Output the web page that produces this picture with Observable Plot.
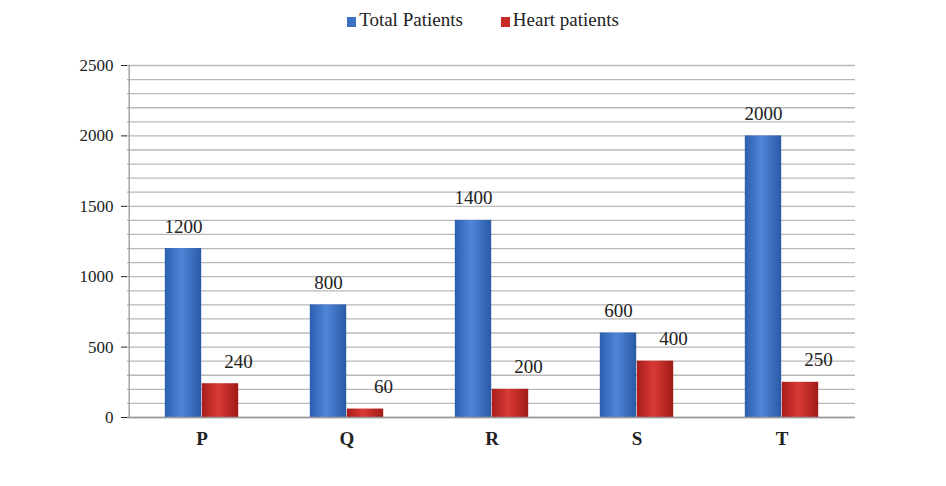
<!DOCTYPE html>
<html><head><meta charset="utf-8">
<script src="https://cdn.jsdelivr.net/npm/d3@7"></script>
<script src="https://cdn.jsdelivr.net/npm/@observablehq/plot@0.6"></script>
<style>
body{margin:0;background:#fff;font-family:"Liberation Serif",serif;}
#legend{height:40px;display:flex;justify-content:center;align-items:center;gap:38px;font-size:19px;color:#222;padding-left:20px;box-sizing:border-box}
#legend span.sw{display:inline-block;width:9px;height:10px;margin-right:3px;vertical-align:-1px}
</style></head><body>
<div id="legend"><div><span class="sw" style="background:#3b70c4"></span>Total Patients</div><div><span class="sw" style="background:#c62a26"></span>Heart patients</div></div>
<div id="chart"></div>
<script>
const categories = ["P","Q","R","S","T"];
const totalPatients = [1200,800,1400,600,2000];
const heartPatients = [240,60,200,400,250];
const yTicks = [0,500,1000,1500,2000,2500];
const gridTicks = d3.range(0,2501,100);

const total = categories.map((c,i)=>({c,v:totalPatients[i]}));
const heart = categories.map((c,i)=>({c,v:heartPatients[i]}));
const bw = (946-127-91)/5, barW = 37, side = bw/2 - barW;
const FF = "Liberation Serif, serif";

const plot = Plot.plot({
  width:946, height:446, marginLeft:127, marginRight:91, marginTop:25, marginBottom:69,
  style:{fontFamily:FF, fontSize:"17px", color:"#222"},
  x:{domain:categories, padding:0, label:null, tickSize:0, tickPadding:14},
  y:{domain:[0,2500], ticks:yTicks, tickFormat:"d", label:null, tickSize:6, tickPadding:8},
  marks:[
    Plot.ruleY(gridTicks,{stroke:"#b8b8b8",strokeWidth:1.3}),
    Plot.barY(total,{x:"c",y:"v",fill:"url(#gBlue)",insetLeft:side,insetRight:bw/2}),
    Plot.barY(heart,{x:"c",y:"v",fill:"url(#gRed)",insetLeft:bw/2,insetRight:side}),
    Plot.text(total,{x:"c",y:"v",text:d=>String(d.v),dx:-barW/2,dy:-22,fontSize:19,fill:"#222",fontFamily:FF}),
    Plot.text(heart,{x:"c",y:"v",text:d=>String(d.v),dx:barW/2+18,dy:-22,fontSize:19,fill:"#222",fontFamily:FF}),
    Plot.ruleX([categories[0]],{dx:-bw/2,stroke:"#999",strokeWidth:1.3}),
    Plot.ruleY([0],{stroke:"#999",strokeWidth:1.3})
  ]
});
const ns="http://www.w3.org/2000/svg";
const defs=document.createElementNS(ns,"defs");
defs.innerHTML=`<linearGradient id="gBlue" x1="0" x2="1"><stop offset="0" stop-color="#2b5fae"/><stop offset="0.45" stop-color="#4f86d8"/><stop offset="1" stop-color="#2a5aa6"/></linearGradient>
<linearGradient id="gRed" x1="0" x2="1"><stop offset="0" stop-color="#a81e1c"/><stop offset="0.45" stop-color="#d93a34"/><stop offset="1" stop-color="#a01a18"/></linearGradient>`;
plot.prepend(defs);
plot.querySelectorAll("[aria-label='x-axis tick label'] text").forEach(t=>{t.style.fontSize="19px";t.style.fontWeight="bold";});
document.getElementById("chart").append(plot);
</script></body></html>
